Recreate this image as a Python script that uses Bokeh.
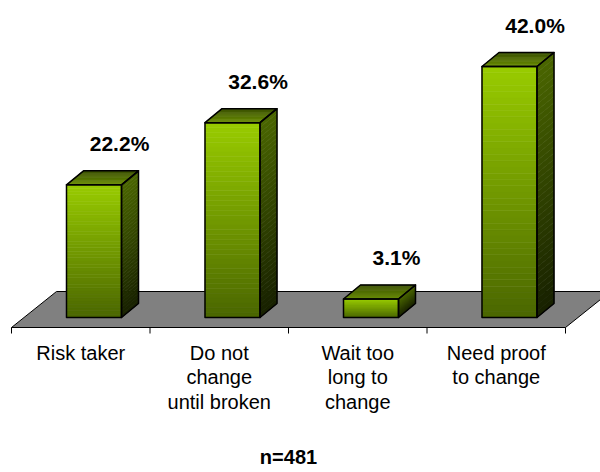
import numpy as np
from bokeh.plotting import figure
from bokeh.models import Range1d
from bokeh.core.properties import value
from bokeh.embed import file_html
from bokeh.resources import INLINE

# ---------------- data ----------------
categories = [
    ["Risk taker"],
    ["Do not", "change", "until broken"],
    ["Wait too", "long to", "change"],
    ["Need proof", "to change"],
]
values = [22.2, 32.6, 3.1, 42.0]
value_labels = ["22.2%", "32.6%", "3.1%", "42.0%"]
note = "n=481"

# ---------------- layout ----------------
W, H = 600, 472
PXX = 138.5          # pixels per category band
PXY = 5.976          # pixels per percent
ORIGIN_X = 11        # frame px of the left category boundary (x = -0.5)
ORIGIN_Y = 317       # frame px (from top) of value 0

x_start = -0.5 - ORIGIN_X / PXX
x_end = x_start + W / PXX
y_end = ORIGIN_Y / PXY
y_start = y_end - H / PXY

DX = 17 / PXX        # bar depth, x
DY = 14 / PXY        # bar depth, y
BAR_LEFT = 55 / PXX - 0.5
BAR_W = 55 / PXX

FLOOR_FRONT = -10 / PXY
FLOOR_BACK = 26 / PXY
FLOOR_SHIFT = 45 / PXX

FONT = "Liberation Sans"


def hex2rgb(h):
    h = h.lstrip("#")
    return np.array([int(h[i:i + 2], 16) for i in (0, 2, 4)], dtype=float)


def lerp(c1, c2, t):
    a, b = hex2rgb(c1), hex2rgb(c2)
    c = a + (b - a) * t
    return "#%02x%02x%02x" % tuple(int(round(v)) for v in c)


FRONT_TOP, FRONT_BOT = "#99CC00", "#4A6600"
SIDE_TOP, SIDE_BOT = "#4A6600", "#172000"
TOP_FRONT, TOP_BACK = "#6A8E00", "#3A5000"

p = figure(width=W, height=H, output_backend="svg", toolbar_location=None,
           x_range=Range1d(x_start, x_end), y_range=Range1d(y_start, y_end),
           min_border=0)
p.axis.visible = False
p.xgrid.visible = False
p.ygrid.visible = False
p.outline_line_color = None
p.background_fill_color = "white"
p.border_fill_color = "white"

n = len(values)
fl, fr = -0.5, n - 0.5

# floor
p.patch([fl, fr, fr + FLOOR_SHIFT, fl + FLOOR_SHIFT],
        [FLOOR_FRONT, FLOOR_FRONT, FLOOR_BACK, FLOOR_BACK],
        fill_color="#808080", line_color="black", line_width=1)

# tick marks
tick_x = [i - 0.5 for i in range(n + 1)]
p.segment(x0=tick_x, y0=[FLOOR_FRONT] * len(tick_x), x1=tick_x,
          y1=[FLOOR_FRONT - 6 / PXY] * len(tick_x), line_color="black", line_width=1)

# bars
xs, ys, cols = [], [], []
oxs, oys = [], []
NS = 40
for i, v in enumerate(values):
    L = i + BAR_LEFT
    R = L + BAR_W
    # side face strips
    for k in range(NS):
        y1 = v * k / NS
        y2 = v * (k + 1) / NS
        xs.append([R, R + DX, R + DX, R])
        ys.append([y1, y1 + DY, y2 + DY, y2])
        cols.append(lerp(SIDE_BOT, SIDE_TOP, (k + 0.5) / NS))
    # top face strips
    NT = 12
    for k in range(NT):
        t1, t2 = k / NT, (k + 1) / NT
        xs.append([L + t1 * DX, R + t1 * DX, R + t2 * DX, L + t2 * DX])
        ys.append([v + t1 * DY, v + t1 * DY, v + t2 * DY, v + t2 * DY])
        cols.append(lerp(TOP_FRONT, TOP_BACK, (k + 0.5) / NT))
    # front face strips
    for k in range(NS):
        y1 = v * k / NS
        y2 = v * (k + 1) / NS
        xs.append([L, R, R, L])
        ys.append([y1, y1, y2, y2])
        cols.append(lerp(FRONT_BOT, FRONT_TOP, (k + 0.5) / NS))
    # outlines
    oxs += [[L, R, R, L], [R, R + DX, R + DX, R], [L, R, R + DX, L + DX]]
    oys += [[0, 0, v, v], [0, DY, v + DY, v], [v, v, v + DY, v + DY]]

p.patches(xs, ys, fill_color=cols, line_color=cols, line_width=0.6)
p.patches(oxs, oys, fill_color=None, line_color="black", line_width=1.5,
          line_join="round")

# value labels
p.text(x=[i + 0.28 for i in range(n)], y=[v + 41 / PXY for v in values],
       text=value_labels, text_font=value(FONT), text_font_style="bold",
       text_font_size="21px", text_align="center", text_baseline="middle",
       text_color="black")

# category labels
lx, ly, lt = [], [], []
for i, lines in enumerate(categories):
    for k, s in enumerate(lines):
        lx.append(i)
        ly.append(-(35 + 24.5 * k) / PXY)
        lt.append(s)
p.text(x=lx, y=ly, text=lt, text_font=value(FONT), text_font_size="20px",
       text_align="center", text_baseline="middle", text_color="black")

# note
p.text(x=[(n - 1) / 2], y=[-(139) / PXY], text=[note], text_font=value(FONT),
       text_font_style="bold", text_font_size="20px", text_align="center",
       text_baseline="middle", text_color="black")

open("out.html", "w").write(file_html(p, INLINE))
